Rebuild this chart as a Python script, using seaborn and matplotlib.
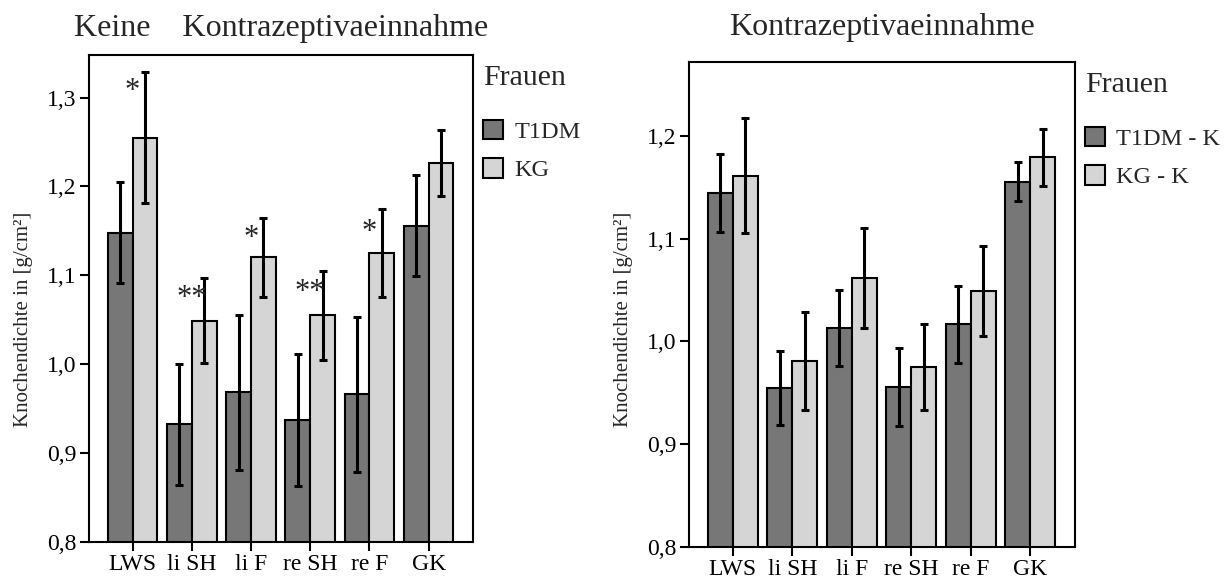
import matplotlib
matplotlib.use("Agg")
import matplotlib.pyplot as plt
import seaborn as sns
import pandas as pd
import numpy as np

# ---------------- data ----------------
categories = ["LWS", "li SH", "li F", "re SH", "re F", "GK"]

# Left panel: keine Kontrazeptivaeinnahme
left_groups = ["T1DM", "KG"]
left_t1dm = [1.148, 0.932, 0.968, 0.937, 0.966, 1.156]
left_t1dm_err = [0.057, 0.068, 0.087, 0.074, 0.087, 0.057]
left_kg = [1.255, 1.049, 1.120, 1.055, 1.125, 1.226]
left_kg_err = [0.074, 0.048, 0.044, 0.050, 0.050, 0.037]

# significance marks (left panel)
sig_categories = ["LWS", "li SH", "li F", "re SH", "re F"]
sig_labels = ["*", "**", "*", "**", "*"]
sig_y = [1.3166, 1.0838, 1.151, 1.0905, 1.158]

# Right panel: Kontrazeptivaeinnahme
right_groups = ["T1DM - K", "KG - K"]
right_t1dm = [1.145, 0.955, 1.0135, 0.956, 1.017, 1.1555]
right_t1dm_err = [0.038, 0.036, 0.037, 0.038, 0.0375, 0.019]
right_kg = [1.1615, 0.981, 1.062, 0.975, 1.049, 1.1795]
right_kg_err = [0.056, 0.048, 0.049, 0.042, 0.044, 0.0275]

left_yticks = [0.8, 0.9, 1.0, 1.1, 1.2, 1.3]
right_yticks = [0.8, 0.9, 1.0, 1.1, 1.2]

# ---------------- style ----------------
sns.set_style("ticks")
plt.rcParams["font.family"] = ["Liberation Serif", "DejaVu Serif"]
plt.rcParams["axes.linewidth"] = 1.5

DARK = "#777777"
LIGHT = "#d5d5d5"

fig = plt.figure(figsize=(12.27, 5.79), dpi=100)
ax_l = fig.add_axes([0.07254, 0.06442, 0.31296, 0.84059])
ax_r = fig.add_axes([0.56153, 0.05579, 0.31459, 0.83713])


def panel(ax, groups, v1, e1, v2, e2, ylim, yticks, title, title_pad, ylabel_y):
    df = pd.DataFrame({
        "Region": categories * 2,
        "Gruppe": [groups[0]] * len(categories) + [groups[1]] * len(categories),
        "Wert": list(v1) + list(v2),
    })
    errs = {groups[0]: e1, groups[1]: e2}
    sns.barplot(data=df, x="Region", y="Wert", hue="Gruppe", order=categories,
                hue_order=groups, palette=[DARK, LIGHT], errorbar=None,
                width=0.84, edgecolor="black", linewidth=1.5, saturation=1,
                ax=ax)
    for cont, g in zip(ax.containers, groups):
        for patch, err in zip(cont.patches, errs[g]):
            xc = patch.get_x() + patch.get_width() / 2
            ax.errorbar(xc, patch.get_height(), yerr=err, fmt="none",
                        ecolor="black", elinewidth=2.2, capsize=3.0,
                        capthick=2.2, zorder=5)
    ax.set_ylim(*ylim)
    ax.set_xlim(-0.735, 5.75)
    ax.set_yticks(yticks)
    ax.set_yticklabels([f"{t:.1f}".replace(".", ",") for t in yticks])
    ax.tick_params(axis="both", labelsize=17, length=6.5, width=1.5,
                   direction="out", colors="black", pad=2.5)
    ax.set_xlabel("")
    ax.set_ylabel("Knochendichte in [g/cm²]", fontsize=15)
    ax.yaxis.set_label_coords(-0.146, ylabel_y)
    for sp in ax.spines.values():
        sp.set_visible(True)
        sp.set_linewidth(1.5)
        sp.set_color("black")
    ax.set_title(title, fontsize=23, pad=title_pad)
    sns.move_legend(ax, "upper left", bbox_to_anchor=(1.0, 1.0), frameon=False,
                    title="Frauen", title_fontsize=21.5, fontsize=17.5,
                    borderaxespad=0, borderpad=0.4, handlelength=0.85,
                    handleheight=0.87, labelspacing=0.62, handletextpad=0.45,
                    alignment="left")
    leg = ax.get_legend()
    for h in leg.legend_handles:
        h.set_edgecolor("black")
        h.set_linewidth(1.5)
    # extra gap between legend title and entries
    leg._legend_box.sep = leg._legend_box.sep + 10


panel(ax_l, left_groups, left_t1dm, left_t1dm_err, left_kg, left_kg_err,
      (0.8, 1.348), left_yticks, "Keine    Kontrazeptivaeinnahme", 13.9, 0.457)
panel(ax_r, right_groups, right_t1dm, right_t1dm_err, right_kg, right_kg_err,
      (0.8, 1.2724), right_yticks, "Kontrazeptivaeinnahme", 19.4, 0.469)

# significance asterisks, centred on category
fs_star = 22
for cat, lab, yv in zip(sig_categories, sig_labels, sig_y):
    xi = categories.index(cat)
    ax_l.annotate(lab, xy=(xi, yv), xytext=(0, -0.53 * fs_star),
                  textcoords="offset points", ha="center", va="baseline",
                  fontsize=fs_star, zorder=6)

fig.savefig("out.png", dpi=100)
